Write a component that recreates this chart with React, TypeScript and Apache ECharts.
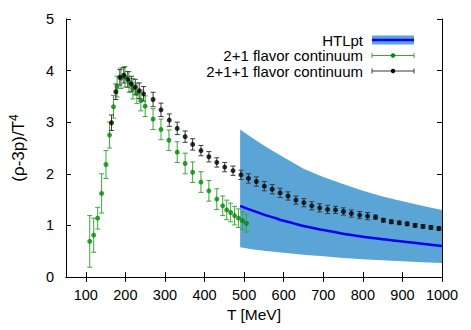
import React, { useEffect, useRef } from "react";
import * as echarts from "echarts";

const xTicks = [100, 200, 300, 400, 500, 600, 700, 800, 900, 1000];

const greenT = [110, 120, 130, 140, 151, 160, 170, 179, 189, 199, 209, 219, 229, 239, 250, 270, 290, 310, 331, 351, 370, 391, 411, 431, 446, 456, 466, 476, 486, 496, 506];
const greenV = [0.69, 0.81, 1.14, 1.62, 2.18, 2.75, 3.30, 3.69, 3.85, 3.88, 3.78, 3.65, 3.56, 3.42, 3.31, 3.06, 2.86, 2.65, 2.42, 2.20, 2.03, 1.84, 1.67, 1.51, 1.38, 1.30, 1.25, 1.19, 1.14, 1.09, 1.04];
const greenE = [0.5, 0.33, 0.21, 0.38, 0.27, 0.25, 0.22, 0.2, 0.2, 0.2, 0.2, 0.2, 0.2, 0.2, 0.2, 0.2, 0.2, 0.2, 0.2, 0.2, 0.2, 0.2, 0.2, 0.2, 0.19, 0.19, 0.18, 0.18, 0.18, 0.17, 0.17];

const blackT = [165, 176, 186, 196, 206, 215, 225, 235, 246, 270, 290, 311, 331, 351, 370, 391, 411, 431, 451, 472, 492, 511, 531, 551, 571, 591, 611, 631, 651, 671, 691, 711, 731, 751, 771, 792, 812, 832, 852, 872, 892, 912, 932, 952, 972, 992];
const blackV = [2.99, 3.59, 3.87, 3.91, 3.83, 3.74, 3.68, 3.61, 3.55, 3.44, 3.24, 3.04, 2.88, 2.72, 2.57, 2.45, 2.33, 2.22, 2.13, 2.06, 1.98, 1.91, 1.85, 1.76, 1.70, 1.63, 1.57, 1.49, 1.44, 1.38, 1.34, 1.31, 1.30, 1.27, 1.23, 1.20, 1.18, 1.16, 1.10, 1.07, 1.05, 1.03, 1.00, 0.98, 0.96, 0.94];
const blackE = [0.15, 0.15, 0.15, 0.15, 0.15, 0.15, 0.15, 0.15, 0.14, 0.14, 0.13, 0.12, 0.12, 0.11, 0.11, 0.1, 0.1, 0.09, 0.09, 0.09, 0.09, 0.09, 0.09, 0.09, 0.09, 0.09, 0.08, 0.08, 0.08, 0.08, 0.08, 0.08, 0.07, 0.07, 0.07, 0.07, 0.07, 0.04, 0.035, 0.035, 0.035, 0.035, 0.035, 0.035, 0.035, 0.035];

const bandT = [490, 520, 550, 575, 600, 625, 650, 700, 750, 800, 850, 900, 950, 1000];
const bandLo = [0.575, 0.54, 0.51, 0.49, 0.47, 0.45, 0.43, 0.40, 0.37, 0.345, 0.325, 0.305, 0.285, 0.27];
const bandMid = [1.38, 1.29, 1.21, 1.15, 1.09, 1.04, 0.99, 0.91, 0.84, 0.78, 0.73, 0.69, 0.645, 0.60];
const bandHi = [2.86, 2.70, 2.55, 2.43, 2.32, 2.21, 2.10, 1.94, 1.80, 1.67, 1.56, 1.47, 1.38, 1.30];

const legendNames = ["HTLpt", "2+1 flavor continuum", "2+1+1 flavor continuum"];

const FONT = "Liberation Sans, Arial, Helvetica, sans-serif";
const BAND = "#5ba4d6";
const LINE = "#0000f0";
const GREEN_PT = "#008a00";
const GREEN_BAR = "#3aa83a";
const BLACK_PT = "#000000";
const BLACK_BAR = "#3a3a3a";

function errorBar(color: string) {
  return (params: any, api: any) => {
    const x = api.value(0);
    const y = api.value(1);
    const e = api.value(2);
    const top = api.coord([x, y + e]);
    const bot = api.coord([x, y - e]);
    const cap = 2.5;
    const style = { stroke: color, lineWidth: 1 };
    return {
      type: "group",
      children: [
        { type: "line", shape: { x1: top[0], y1: top[1], x2: bot[0], y2: bot[1] }, style },
        { type: "line", shape: { x1: top[0] - cap, y1: top[1], x2: top[0] + cap, y2: top[1] }, style },
        { type: "line", shape: { x1: bot[0] - cap, y1: bot[1], x2: bot[0] + cap, y2: bot[1] }, style },
      ],
    };
  };
}

export default function App() {
  const ref = useRef<HTMLDivElement>(null);
  useEffect(() => {
    const chart = echarts.init(ref.current!, null, { renderer: "svg" });
    const axisLine = { show: true, lineStyle: { color: "#000", width: 1 } };
    const lx = 363;
    const sx = 372;
    const sw = 42;
    const rows = [40, 55.5, 71];
    const option: any = {
      animation: false,
      backgroundColor: "#fff",
      grid: { left: 58, top: 19, right: 29, bottom: 53, containLabel: false },
      xAxis: [
        {
          type: "value", min: 50, max: 1000, position: "bottom",
          name: "T [MeV]", nameLocation: "middle", nameGap: 29,
          nameTextStyle: { fontFamily: FONT, fontSize: 15.5, color: "#000" },
          axisLine, splitLine: { show: false },
          axisTick: { show: true, inside: true, length: 5, customValues: xTicks, lineStyle: { color: "#000" } },
          axisLabel: { customValues: xTicks, formatter: (v: number) => String(v), fontFamily: FONT, fontSize: 14.5, color: "#000", margin: 10 },
        },
        {
          type: "value", min: 50, max: 1000, position: "top",
          axisLine, splitLine: { show: false },
          axisTick: { show: true, inside: true, length: 5, customValues: xTicks, lineStyle: { color: "#000" } },
          axisLabel: { show: false },
        },
      ],
      yAxis: [
        {
          type: "value", min: 0, max: 5, interval: 1, position: "left",
          name: "(ρ-3p)/T{sup|4}", nameLocation: "middle", nameGap: 37,
          nameTextStyle: {
            fontFamily: FONT, fontSize: 17, color: "#000",
            rich: { sup: { fontFamily: FONT, fontSize: 12, color: "#000", padding: [0, 0, 9, 0] } },
          },
          axisLine, splitLine: { show: false },
          axisTick: { show: true, inside: true, length: 5, lineStyle: { color: "#000" } },
          axisLabel: { fontFamily: FONT, fontSize: 14.5, color: "#000", margin: 12 },
        },
        {
          type: "value", min: 0, max: 5, interval: 1, position: "right",
          axisLine, splitLine: { show: false },
          axisTick: { show: true, inside: true, length: 5, lineStyle: { color: "#000" } },
          axisLabel: { show: false },
        },
      ],
      series: [
        {
          type: "custom", name: "HTLpt band", xAxisIndex: 0, yAxisIndex: 0,
          data: [[bandT[0], bandLo[0]]],
          encode: { x: 0, y: 1 },
          silent: true, z: 1,
          renderItem: (params: any, api: any) => {
            const pts: number[][] = [];
            for (let i = 0; i < bandT.length; i++) pts.push(api.coord([bandT[i], bandHi[i]]));
            for (let i = bandT.length - 1; i >= 0; i--) pts.push(api.coord([bandT[i], bandLo[i]]));
            return { type: "polygon", shape: { points: pts }, style: { fill: BAND, stroke: null } };
          },
        },
        {
          type: "line", name: "HTLpt", data: bandT.map((t, i) => [t, bandMid[i]]),
          smooth: true, showSymbol: false, symbol: "none", z: 2,
          lineStyle: { color: LINE, width: 2.5 },
        },
        {
          type: "custom", name: "green bars", data: greenT.map((t, i) => [t, greenV[i], greenE[i]]),
          encode: { x: 0, y: 1 }, renderItem: errorBar(GREEN_BAR), z: 3, silent: true,
        },
        {
          type: "custom", name: "black bars", data: blackT.map((t, i) => [t, blackV[i], blackE[i]]),
          encode: { x: 0, y: 1 }, renderItem: errorBar(BLACK_BAR), z: 3, silent: true,
        },
        {
          type: "scatter", name: legendNames[1], data: greenT.map((t, i) => [t, greenV[i]]),
          symbol: "circle", symbolSize: 5, itemStyle: { color: GREEN_PT }, z: 4,
        },
        {
          type: "scatter", name: legendNames[2], data: blackT.map((t, i) => [t, blackV[i]]),
          symbol: "circle", symbolSize: 5, itemStyle: { color: BLACK_PT }, z: 4,
        },
      ],
      graphic: [
        ...legendNames.map((n, i) => ({
          type: "text", x: lx, y: rows[i],
          style: { text: n, fontFamily: FONT, fontSize: 15, lineHeight: 14, fill: "#000", align: "right", verticalAlign: "middle" },
        })),
        { type: "rect", shape: { x: sx, y: rows[0] - 4.5, width: sw, height: 9 }, style: { fill: BAND } },
        { type: "line", shape: { x1: sx, y1: rows[0], x2: sx + sw, y2: rows[0] }, style: { stroke: LINE, lineWidth: 2.5 } },
        ...[1, 2].flatMap((r) => {
          const c = r === 1 ? GREEN_BAR : BLACK_BAR;
          const p = r === 1 ? GREEN_PT : BLACK_PT;
          const y = rows[r];
          return [
            { type: "line", shape: { x1: sx, y1: y, x2: sx + sw, y2: y }, style: { stroke: c, lineWidth: 1 } },
            { type: "line", shape: { x1: sx, y1: y - 2.5, x2: sx, y2: y + 2.5 }, style: { stroke: c, lineWidth: 1 } },
            { type: "line", shape: { x1: sx + sw, y1: y - 2.5, x2: sx + sw, y2: y + 2.5 }, style: { stroke: c, lineWidth: 1 } },
            { type: "circle", shape: { cx: sx + sw / 2, cy: y, r: 2.2 }, style: { fill: p } },
          ];
        }),
      ],
    };
    chart.setOption(option);
    return () => chart.dispose();
  }, []);
  return <div ref={ref} style={{ position: "absolute", left: 0, top: 0, width: 471, height: 330 }} />;
}
